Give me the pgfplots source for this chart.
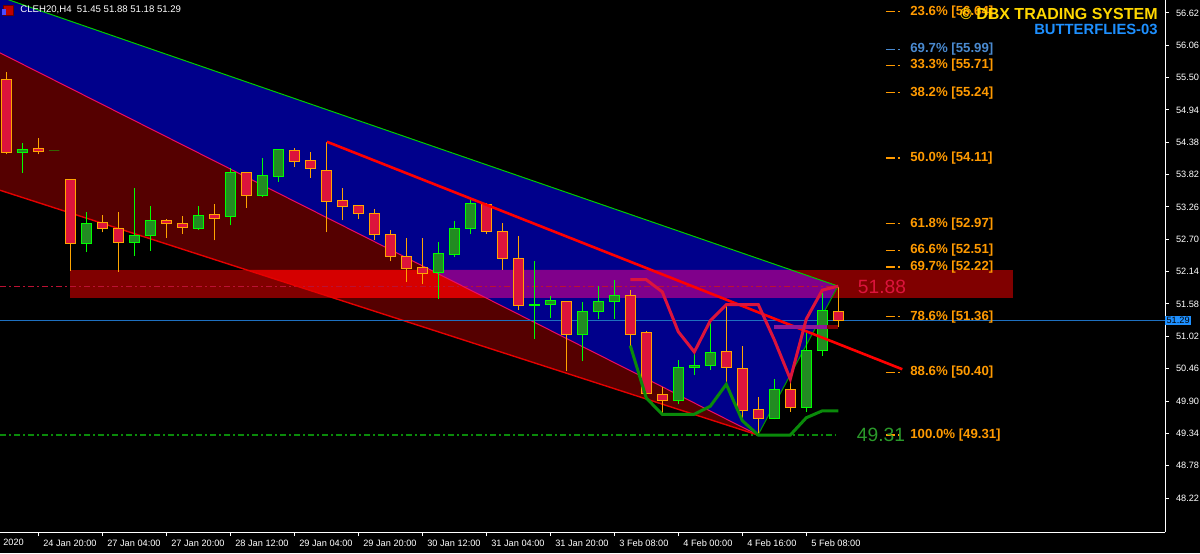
\documentclass[border=0pt]{standalone}
\usepackage{pgfplots}
\usepackage{pgfplotstable}
\usepackage{fontspec}
\setmainfont{Liberation Sans}
\pgfplotsset{compat=1.18}

\definecolor{chanblue}{HTML}{00008B}
\definecolor{chanred}{HTML}{550000}
\definecolor{zonered}{HTML}{800000}
\definecolor{zonebright}{HTML}{D50000}
\definecolor{zonepurple}{HTML}{80008B}
\definecolor{bullline}{HTML}{00FF00}
\definecolor{bullbody}{HTML}{228B22}
\definecolor{bearline}{HTML}{FFA500}
\definecolor{bearbody}{HTML}{DC143C}
\definecolor{fibor}{HTML}{FF9A00}
\definecolor{fibblue}{HTML}{4A8AD0}
\definecolor{priceblue}{HTML}{1E70C0}
\definecolor{crim}{HTML}{DC143C}
\definecolor{lowgreen}{HTML}{0A8A0A}
\definecolor{biggreen}{HTML}{2A992A}
\definecolor{gold}{HTML}{FFD700}
\definecolor{dodger}{HTML}{1E90FF}

\newcommand\ax{\fontsize{4.6}{5}\selectfont}
\newcommand\fib{\fontsize{6.6}{7}\selectfont\bfseries}
\newcommand\bigval{\fontsize{9.6}{10}\selectfont}
\tikzset{fiblab/.style={anchor=west, inner sep=0pt, font=\fib, text=fibor}}

% H4 candles, x = bar index
\pgfplotstableread{
k O H L C
0 55.47 55.59 54.17 54.21
1 54.21 54.37 53.85 54.26
2 54.27 54.46 54.17 54.22
3 54.23 54.23 54.23 54.23
4 53.73 53.73 52.16 52.62
5 52.62 53.17 52.48 52.97
6 52.99 53.13 52.82 52.88
7 52.88 53.18 52.13 52.65
8 52.64 53.59 52.41 52.76
9 52.76 53.27 52.50 53.02
10 53.02 53.06 52.72 52.98
11 52.98 53.11 52.79 52.91
12 52.89 53.27 52.86 53.12
13 53.13 53.31 52.68 53.06
14 53.09 53.94 52.94 53.85
15 53.85 53.86 53.25 53.46
16 53.46 54.11 53.44 53.80
17 53.79 54.26 53.70 54.25
18 54.24 54.29 53.96 54.05
19 54.06 54.21 53.77 53.92
20 53.90 54.39 52.82 53.36
21 53.37 53.59 53.03 53.27
22 53.28 53.29 53.05 53.15
23 53.14 53.23 52.69 52.79
24 52.79 52.87 52.32 52.41
25 52.41 52.73 51.96 52.19
26 52.21 52.72 51.92 52.11
27 52.12 52.66 51.67 52.45
28 52.43 53.01 52.40 52.88
29 52.88 53.39 52.79 53.32
30 53.31 53.33 52.79 52.84
31 52.83 52.99 52.17 52.36
32 52.36 52.75 51.48 51.56
33 51.55 52.32 50.97 51.57
34 51.57 51.71 51.34 51.64
35 51.63 51.64 50.42 51.06
36 51.06 51.61 50.59 51.45
37 51.45 51.89 51.32 51.62
38 51.62 52.00 51.32 51.72
39 51.72 51.82 50.86 51.06
40 51.08 51.12 50.03 50.03
41 50.02 50.15 49.70 49.91
42 49.91 50.61 49.84 50.48
43 50.48 50.73 50.35 50.51
44 50.51 51.25 50.44 50.74
45 50.75 51.56 50.20 50.48
46 50.46 50.86 49.61 49.74
47 49.76 49.97 49.31 49.60
48 49.59 50.28 49.58 50.10
49 50.10 50.22 49.71 49.78
50 49.78 51.07 49.71 50.77
51 50.77 51.77 50.68 51.46
52 51.45 51.88 51.18 51.29
}\candles

\pgfplotstableread{
k hi lo
39 52.00 50.86
40 52.00 49.95
41 51.79 49.67
42 51.10 49.67
43 50.75 49.67
44 51.29 49.81
45 51.57 50.19
46 51.57 49.56
47 51.57 49.31
48 50.96 49.31
49 50.28 49.31
50 51.32 49.61
51 51.82 49.73
52 51.89 49.73
}\wings

\begin{document}
\begin{tikzpicture}
\fill[black] (0,0) rectangle (600pt,276.5pt);
\begin{axis}[
  at={(0,276.5pt)}, anchor=north west,
  scale only axis, width=582.5pt, height=266pt,
  xmin=-0.394, xmax=72.42, ymin=47.631, ymax=56.845,
  clip mode=individual,
  axis x line*=bottom, axis y line*=right,
  axis line style={white, line width=0.5pt},
  tick align=outside, major tick length=2pt,
  tick style={white, line width=0.5pt},
  xtick={2,6,...,50},
  xticklabels={24 Jan 20:00,27 Jan 04:00,27 Jan 20:00,28 Jan 12:00,29 Jan 04:00,29 Jan 20:00,30 Jan 12:00,31 Jan 04:00,31 Jan 20:00,3 Feb 08:00,4 Feb 00:00,4 Feb 16:00,5 Feb 08:00},
  xticklabel style={anchor=north west, font=\ax, text=white, xshift=-1pt, yshift=1.5pt},
  ytick={48.22,48.78,49.34,49.90,50.46,51.02,51.58,52.14,52.70,53.26,53.82,54.38,54.94,55.50,56.06,56.62},
  yticklabel style={font=\ax, text=white, /pgf/number format/.cd, fixed, fixed zerofill, precision=2, assume math mode=true},
]
% channel areas
\addplot[fill=chanblue, draw=none] coordinates {(-0.394,56.90) (51.98,51.89) (46.98,49.31) (-0.394,55.93)} --cycle;
\addplot[fill=chanred, draw=none] coordinates {(-0.394,55.93) (46.98,49.31) (-0.394,53.55)} --cycle;
% supply zone
\addplot[fill=zonered, draw=none] coordinates {(4,51.684) (62.92,51.684) (62.92,52.169) (4,52.169)} --cycle;
\addplot[fill=zonebright, draw=none] coordinates {(15.04,52.169) (26.52,52.169) (29.99,51.684) (20.46,51.684)} --cycle;
\addplot[fill=zonepurple, draw=none] coordinates {(26.52,52.169) (49.06,52.169) (51.98,51.89) (51.58,51.684) (29.99,51.684)} --cycle;
% dash-dot levels
\addplot[color=crim!85!black, line width=0.7pt, dash pattern=on 3pt off 1.5pt on 1pt off 1.5pt] coordinates {(-0.394,51.88) (51.98,51.88)};
\addplot[color=lowgreen, line width=0.6pt, dash pattern=on 3pt off 1.5pt on 1pt off 1.5pt] coordinates {(-0.394,49.31) (51.8,49.31)};
% channel lines
\addplot[color=green!80!black, line width=0.5pt] coordinates {(-0.394,56.90) (51.98,51.89)};
\addplot[color=magenta!60!red, line width=0.5pt] coordinates {(-0.394,55.93) (46.98,49.31)};
\addplot[color=red!90!black, line width=0.7pt] coordinates {(-0.394,53.55) (46.98,49.31)};
\addplot[color=green!60!black, line width=0.5pt] coordinates {(46.98,49.31) (51.98,51.89)};
% bid line
\addplot[color=priceblue, line width=0.6pt] coordinates {(-0.394,51.29) (72.42,51.29)};

% candles
\pgfplotstablegetrowsof{\candles}
\pgfmathtruncatemacro\lastrow{\pgfplotsretval-1}
\pgfplotsforeachungrouped \i in {0,...,\lastrow}{%
  \pgfplotstablegetelem{\i}{k}\of\candles\let\ck\pgfplotsretval
  \pgfplotstablegetelem{\i}{O}\of\candles\let\co\pgfplotsretval
  \pgfplotstablegetelem{\i}{H}\of\candles\let\ch\pgfplotsretval
  \pgfplotstablegetelem{\i}{L}\of\candles\let\cl\pgfplotsretval
  \pgfplotstablegetelem{\i}{C}\of\candles\let\cc\pgfplotsretval
  \pgfmathsetmacro\xl{\ck-0.32}%
  \pgfmathsetmacro\xr{\ck+0.32}%
  \pgfmathtruncatemacro\up{\cc>=\co ? 1 : 0}%
  \ifnum\up=1 \def\wc{bullline}\def\fc{bullbody}\else\def\wc{bearline}\def\fc{bearbody}\fi
  \edef\temp{%
    \noexpand\addplot[color=\wc, line width=0.5pt, forget plot] coordinates {(\ck,\cl) (\ck,\ch)};
    \noexpand\addplot[fill=\fc, draw=\wc, line width=0.5pt, forget plot] coordinates {(\xl,\co) (\xr,\co) (\xr,\cc) (\xl,\cc)} --cycle;
  }%
  \temp
}

% trend line
\addplot[color=red, line width=1.3pt] coordinates {(20.04,54.39) (56.0,50.45)};
\addplot[color=zonepurple!90!white, line width=2pt] coordinates {(47.98,51.18) (51.3,51.18)};
\addplot[color=zonered, line width=2pt] coordinates {(51.3,51.18) (51.98,51.18)};
% butterfly envelopes
\addplot[color=crim, line width=1.5pt] table[x=k, y=hi] {\wings};
\addplot[color=lowgreen, line width=1.5pt] table[x=k, y=lo] {\wings};

% fibonacci levels
\addplot[color=fibor, line width=0.6pt, unbounded coords=jump, dash pattern=on 4.5pt off 1.5pt on 1pt off 5pt] coordinates {
 (54.98,56.64) (55.86,56.64) (55,nan)
 (54.98,55.71) (55.86,55.71) (55,nan)
 (54.98,55.24) (55.86,55.24) (55,nan)
 (54.98,54.11) (55.86,54.11) (55,nan)
 (54.98,52.97) (55.86,52.97) (55,nan)
 (54.98,52.51) (55.86,52.51) (55,nan)
 (54.98,52.22) (55.86,52.22) (55,nan)
 (54.98,51.36) (55.86,51.36) (55,nan)
 (54.98,50.40) (55.86,50.40) (55,nan)
 (54.98,49.31) (55.86,49.31)};
\addplot[color=fibblue, line width=0.6pt, dash pattern=on 4.5pt off 1.5pt on 1pt off 5pt] coordinates {(54.98,55.99) (55.86,55.99)};

\node[font=\bigval, text=crim] at (axis cs:54.73,51.88) {51.88};
\node[font=\bigval, text=biggreen] at (axis cs:54.67,49.31) {49.31};

\node[fiblab] at (axis cs:56.48,56.64) {23.6\% [56.64]};
\node[fiblab, text=fibblue] at (axis cs:56.48,55.99) {69.7\% [55.99]};
\node[fiblab] at (axis cs:56.48,55.71) {33.3\% [55.71]};
\node[fiblab] at (axis cs:56.48,55.24) {38.2\% [55.24]};
\node[fiblab] at (axis cs:56.48,54.11) {50.0\% [54.11]};
\node[fiblab] at (axis cs:56.48,52.97) {61.8\% [52.97]};
\node[fiblab] at (axis cs:56.48,52.51) {66.6\% [52.51]};
\node[fiblab] at (axis cs:56.48,52.22) {69.7\% [52.22]};
\node[fiblab] at (axis cs:56.48,51.36) {78.6\% [51.36]};
\node[fiblab] at (axis cs:56.48,50.40) {88.6\% [50.40]};
\node[fiblab] at (axis cs:56.48,49.31) {100.0\% [49.31]};

\node[anchor=east, inner sep=0pt, font=\fontsize{8}{9}\selectfont\bfseries, text=gold] at (rel axis cs:0.994,0.9737) {© DBX TRADING SYSTEM};
\node[anchor=east, inner sep=0pt, font=\fontsize{7.4}{8}\selectfont\bfseries, text=dodger] at (rel axis cs:0.994,0.9455) {BUTTERFLIES-03};

\node[anchor=west, inner sep=0pt, font=\fontsize{4.8}{5}\selectfont, text=white] at (rel axis cs:0.0172,0.9812) {CLEH20,H4\ \ 51.45 51.88 51.18 51.29};
\node[fill=red!75!black, draw=red!40!black, minimum width=5pt, minimum height=5pt, inner sep=0pt] at (rel axis cs:0.0075,0.981) {};
\node[fill=blue!70!white, minimum width=2pt, minimum height=3pt, inner sep=0pt] at (rel axis cs:0.0035,0.978) {};

\node[anchor=west, fill=dodger, text=black, font=\ax, inner sep=0.6pt] at (axis cs:72.42,51.29) {51.29};
\node[anchor=north west, font=\ax, text=white, inner sep=0pt] at (rel axis cs:0.0025,-0.012) {2020};
\end{axis}
\pgfresetboundingbox
\path[use as bounding box] (0,0) rectangle (600pt,276.5pt);
\end{tikzpicture}
\end{document}
